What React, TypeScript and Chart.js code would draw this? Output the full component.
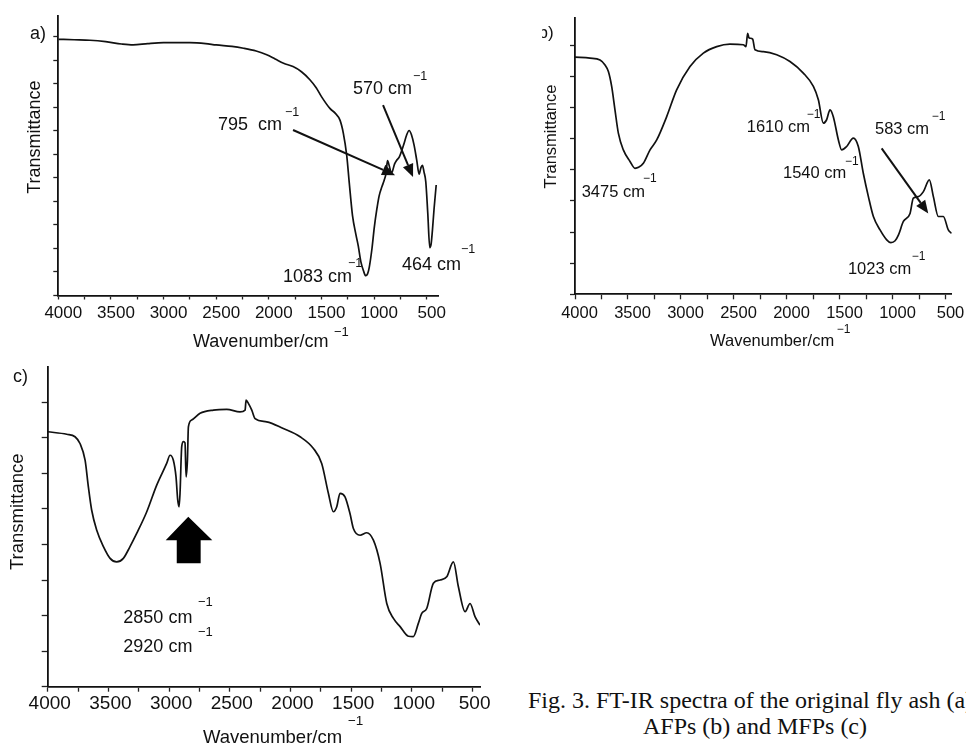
import React, { useEffect, useRef } from "react";
import { Chart, registerables } from "chart.js";

Chart.register(...registerables);

// ---------------- data ----------------
// Panel a) original fly ash
const A_WAVENUMBER = [4000, 3850, 3700, 3550, 3400, 3290, 3150, 3000, 2750, 2600, 2500, 2350, 2240, 2120, 2020, 1940, 1860, 1770, 1690, 1610, 1550, 1500, 1420, 1370, 1324, 1292, 1260, 1236, 1205, 1173, 1150, 1126, 1100, 1080, 1062, 1046, 1020, 998, 975, 952, 925, 904, 885, 873, 855, 836, 826, 805, 787, 760, 720, 690, 667, 645, 620, 595, 572, 555, 541, 525, 509, 490, 471, 458, 446, 430, 410];
const A_TRANSMITTANCE = [5.95, 5.94, 5.93, 5.9, 5.85, 5.83, 5.86, 5.88, 5.88, 5.86, 5.83, 5.8, 5.76, 5.7, 5.62, 5.53, 5.44, 5.37, 5.26, 5.09, 4.92, 4.73, 4.48, 4.38, 4.23, 3.95, 3.48, 2.9, 2.2, 1.8, 1.55, 1.22, 1.02, 0.92, 0.96, 1.1, 1.5, 1.95, 2.32, 2.62, 2.82, 2.95, 3.12, 3.37, 3.25, 3.1, 3.14, 3.3, 3.37, 3.45, 3.7, 3.92, 4.01, 3.92, 3.7, 3.38, 3.08, 3.22, 3.27, 3.12, 2.92, 2.25, 1.52, 1.6, 1.88, 2.35, 2.85];

// Panel b) AFPs
const B_WAVENUMBER = [4000, 3858, 3764, 3717, 3685, 3654, 3623, 3591, 3544, 3481, 3434, 3400, 3355, 3292, 3229, 3135, 3041, 2915, 2789, 2663, 2538, 2412, 2387, 2371, 2360, 2349, 2324, 2302, 2223, 2097, 1972, 1846, 1751, 1704, 1657, 1626, 1594, 1563, 1515, 1484, 1437, 1374, 1327, 1280, 1232, 1185, 1122, 1059, 1020, 980, 949, 902, 839, 808, 761, 713, 657, 619, 572, 525, 478, 447];
const B_TRANSMITTANCE = [7.62, 7.59, 7.53, 7.37, 7.16, 6.68, 5.93, 5.18, 4.64, 4.27, 4.05, 4.08, 4.21, 4.64, 4.96, 5.71, 6.57, 7.32, 7.75, 7.96, 8.04, 8.02, 7.96, 8.39, 8.25, 8.23, 8.2, 7.86, 7.8, 7.7, 7.48, 7.11, 6.68, 6.25, 5.5, 5.61, 5.93, 5.71, 4.96, 4.64, 4.75, 5.02, 4.75, 3.89, 3.14, 2.5, 2.07, 1.75, 1.66, 1.72, 1.9, 2.34, 2.6, 3.09, 3.14, 3.3, 3.68, 3.14, 2.5, 2.5, 2.07, 1.96];

// Panel c) MFPs
const C_WAVENUMBER = [4000, 3843, 3775, 3734, 3692, 3665, 3638, 3596, 3541, 3486, 3432, 3377, 3322, 3267, 3184, 3102, 3020, 2992, 2965, 2943, 2929, 2918, 2910, 2896, 2882, 2869, 2860, 2849, 2841, 2814, 2745, 2635, 2525, 2416, 2374, 2366, 2347, 2319, 2292, 2196, 2059, 1921, 1811, 1743, 1688, 1647, 1619, 1592, 1551, 1510, 1482, 1427, 1372, 1317, 1262, 1207, 1152, 1097, 1029, 988, 947, 919, 878, 823, 768, 713, 658, 617, 562, 521, 480, 439];
const C_TRANSMITTANCE = [7.17, 7.1, 7.03, 6.84, 6.37, 5.62, 4.97, 4.4, 3.94, 3.61, 3.51, 3.61, 3.94, 4.31, 4.92, 5.67, 6.28, 6.51, 6.37, 5.9, 5.25, 5.06, 5.44, 6.75, 6.89, 6.86, 5.9, 6.37, 7.31, 7.5, 7.69, 7.78, 7.8, 7.73, 7.78, 8.06, 7.97, 7.78, 7.54, 7.45, 7.26, 7.03, 6.7, 6.28, 5.44, 4.92, 5.06, 5.44, 5.34, 4.87, 4.45, 4.26, 4.33, 4.12, 3.47, 2.34, 1.92, 1.69, 1.42, 1.41, 1.78, 2.06, 2.2, 2.91, 3.0, 3.09, 3.51, 2.81, 2.11, 2.34, 1.97, 1.73];

// tick values
const X_TICKS = [4000, 3750, 3500, 3250, 3000, 2750, 2500, 2250, 2000, 1750, 1500, 1250, 1000, 750, 500];
const A_Y_TICKS = [0.5, 1, 1.5, 2, 2.5, 3, 3.5, 4, 4.5, 5, 5.5, 6];
const B_Y_TICKS = [0, 1, 2, 3, 4, 5, 6, 7, 8];
const C_Y_TICKS = [0, 1, 2, 3, 4, 5, 6, 7, 8];

const FONT = "'Liberation Sans', Arial, Helvetica, sans-serif";
const SUP = "\u22121";

// ---------------- annotations (in data coordinates) ----------------
const A_NOTES = [
  { kind: "text", text: "a)", x: 4269, y: 6.06, size: 18 },
  { kind: "text", text: "Transmittance", x: 4221, y: 3.87, size: 18, rotate: true },
  { kind: "text", text: "795  cm", x: 2483, y: 4.13, size: 18 },
  { kind: "text", text: SUP, x: 1846, y: 4.4, size: 12.5 },
  { kind: "text", text: "570 cm", x: 1200, y: 4.89, size: 18 },
  { kind: "text", text: SUP, x: 630, y: 5.15, size: 12.5 },
  { kind: "arrow", x1: 1770, y1: 4.02, x2: 801, y2: 3.06 },
  { kind: "arrow", x1: 915, y1: 4.55, x2: 630, y2: 3.02 },
  { kind: "text", text: "1083 cm", x: 1865, y: 0.89, size: 18 },
  { kind: "text", text: SUP, x: 1248, y: 1.19, size: 12.5 },
  { kind: "text", text: "464 cm", x: 735, y: 1.15, size: 18 },
  { kind: "text", text: SUP, x: 174, y: 1.47, size: 12.5 },
  { kind: "text", text: "Wavenumber/cm", x: 2720, y: -0.48, size: 18 },
  { kind: "text", text: SUP, x: 1381, y: -0.28, size: 13 },
];

const B_NOTES = [
  { kind: "text", text: "b)", x: 4344, y: 8.4, size: 17 },
  { kind: "text", text: "Transmittance", x: 4220, y: 5.07, size: 16.5, rotate: true },
  { kind: "text", text: "3475 cm", x: 3937, y: 3.27, size: 16.5 },
  { kind: "text", text: SUP, x: 3358, y: 3.71, size: 12 },
  { kind: "text", text: "1610 cm", x: 2380, y: 5.37, size: 16.5 },
  { kind: "text", text: SUP, x: 1814, y: 5.77, size: 12 },
  { kind: "text", text: "1540 cm", x: 2038, y: 3.87, size: 16.5 },
  { kind: "text", text: SUP, x: 1453, y: 4.26, size: 12 },
  { kind: "text", text: "583 cm", x: 1170, y: 5.31, size: 16.5 },
  { kind: "text", text: SUP, x: 635, y: 5.71, size: 12 },
  { kind: "arrow", x1: 1107, y1: 4.69, x2: 667, y2: 2.6 },
  { kind: "text", text: "1023 cm", x: 1425, y: 0.8, size: 16.5 },
  { kind: "text", text: SUP, x: 824, y: 1.21, size: 12 },
  { kind: "text", text: "Wavenumber/cm", x: 2726, y: -1.52, size: 16.5 },
  { kind: "text", text: SUP, x: 1531, y: -1.15, size: 12 },
];

const C_NOTES = [
  { kind: "text", text: "c)", x: 4286, y: 8.72, size: 18 },
  { kind: "text", text: "Transmittance", x: 4242, y: 4.92, size: 18.5, rotate: true },
  { kind: "block", tipX: 2842, tipY: 4.78, headY: 4.12, headL: 3028, headR: 2644, stemL: 2937, stemR: 2740, stemY: 3.47 },
  { kind: "text", text: "2850 cm", x: 3377, y: 1.94, size: 18 },
  { kind: "text", text: SUP, x: 2762, y: 2.38, size: 13 },
  { kind: "text", text: "2920 cm", x: 3377, y: 1.11, size: 18 },
  { kind: "text", text: SUP, x: 2762, y: 1.52, size: 13 },
  { kind: "text", text: "Wavenumber/cm", x: 2721, y: -1.45, size: 18.5 },
  { kind: "text", text: SUP, x: 1527, y: -0.98, size: 13.5 },
];

// ---------------- panel layout ----------------
const PANELS = [
  {
    key: "a", wn: A_WAVENUMBER, t: A_TRANSMITTANCE, yTicks: A_Y_TICKS, notes: A_NOTES,
    left: 0, top: 0, w: 485, h: 350, padTop: 15.8, padRight: 46.7, yAxisW: 58.3, xAxisH: 54.5,
    xMin: 390, yMin: 0.5, yMax: 6.45, tickSize: 17, tickPad: 3.6, labelOffset: 5, xTickLen: 4, yTickLen: 5,
  },
  {
    key: "b", wn: B_WAVENUMBER, t: B_TRANSMITTANCE, yTicks: B_Y_TICKS, notes: B_NOTES,
    left: 542, top: 0, w: 424, h: 355, padTop: 18, padRight: 14.3, yAxisW: 33, xAxisH: 60.7,
    xMin: 446, yMin: 0, yMax: 8.88, tickSize: 16.5, tickPad: 4.1, labelOffset: 4.5, xTickLen: 5, yTickLen: 5,
  },
  {
    key: "c", wn: C_WAVENUMBER, t: C_TRANSMITTANCE, yTicks: C_Y_TICKS, notes: C_NOTES,
    left: 0, top: 360, w: 500, h: 387, padTop: 6.7, padRight: 20, yAxisW: 47.7, xAxisH: 60.3,
    xMin: 439, yMin: 0, yMax: 9, tickSize: 19, tickPad: 0.5, labelOffset: 2, xTickLen: 5, yTickLen: 6,
  },
];

function makeNotesPlugin(notes: any[]) {
  return {
    id: "notes",
    afterDraw(chart: any) {
      const ctx = chart.ctx as CanvasRenderingContext2D;
      const xs = chart.scales.x;
      const ys = chart.scales.y;
      const X = (v: number) => xs.getPixelForValue(v);
      const Y = (v: number) => ys.getPixelForValue(v);
      ctx.save();
      for (const n of notes) {
        if (n.kind === "text") {
          ctx.fillStyle = "#111";
          ctx.font = `${n.size}px ${FONT}`;
          ctx.textBaseline = "middle";
          if (n.rotate) {
            ctx.save();
            ctx.translate(X(n.x), Y(n.y));
            ctx.rotate(-Math.PI / 2);
            ctx.textAlign = "center";
            ctx.fillText(n.text, 0, 0);
            ctx.restore();
          } else {
            ctx.textAlign = "left";
            ctx.fillText(n.text, X(n.x), Y(n.y));
          }
        } else if (n.kind === "arrow") {
          const x1 = X(n.x1), y1 = Y(n.y1), x2 = X(n.x2), y2 = Y(n.y2);
          const ang = Math.atan2(y2 - y1, x2 - x1);
          const len = 13, half = 5.5;
          const bx = x2 - len * Math.cos(ang), by = y2 - len * Math.sin(ang);
          ctx.strokeStyle = "#111";
          ctx.lineWidth = 2;
          ctx.beginPath();
          ctx.moveTo(x1, y1);
          ctx.lineTo(bx, by);
          ctx.stroke();
          ctx.fillStyle = "#111";
          ctx.beginPath();
          ctx.moveTo(x2, y2);
          ctx.lineTo(bx + half * Math.sin(ang), by - half * Math.cos(ang));
          ctx.lineTo(bx - half * Math.sin(ang), by + half * Math.cos(ang));
          ctx.closePath();
          ctx.fill();
        } else if (n.kind === "block") {
          ctx.fillStyle = "#000";
          ctx.beginPath();
          ctx.moveTo(X(n.tipX), Y(n.tipY));
          ctx.lineTo(X(n.headR), Y(n.headY));
          ctx.lineTo(X(n.stemR), Y(n.headY));
          ctx.lineTo(X(n.stemR), Y(n.stemY));
          ctx.lineTo(X(n.stemL), Y(n.stemY));
          ctx.lineTo(X(n.stemL), Y(n.headY));
          ctx.lineTo(X(n.headL), Y(n.headY));
          ctx.closePath();
          ctx.fill();
        }
      }
      ctx.restore();
    },
  };
}

function buildConfig(p: any): any {
  return {
    type: "line",
    data: {
      datasets: [
        {
          data: p.wn.map((w: number, i: number) => ({ x: w, y: p.t[i] })),
          borderColor: "#111",
          borderWidth: 1.7,
          pointRadius: 0,
          fill: false,
          cubicInterpolationMode: "monotone",
        },
      ],
    },
    options: {
      responsive: false,
      animation: false,
      devicePixelRatio: 1,
      layout: { padding: { top: p.padTop, right: p.padRight, left: 0, bottom: 0 } },
      plugins: { legend: { display: false }, tooltip: { enabled: false }, title: { display: false } },
      scales: {
        x: {
          type: "linear",
          reverse: true,
          min: p.xMin,
          max: 4000,
          afterBuildTicks: (s: any) => {
            s.ticks = X_TICKS.map((v) => ({ value: v }));
          },
          afterFit: (s: any) => {
            s.height = p.xAxisH;
          },
          ticks: {
            autoSkip: false,
            maxRotation: 0,
            minRotation: 0,
            padding: p.tickPad,
            labelOffset: p.labelOffset,
            color: "#111",
            font: { family: FONT, size: p.tickSize },
            callback: (v: number) => (v % 500 === 0 ? String(v) : ""),
          },
          grid: {
            display: true,
            drawOnChartArea: false,
            drawTicks: true,
            tickLength: p.xTickLen,
            tickColor: "#222",
            tickWidth: 1.3,
          },
          border: { display: true, color: "#111", width: 1.8 },
        },
        y: {
          type: "linear",
          min: p.yMin,
          max: p.yMax,
          afterBuildTicks: (s: any) => {
            s.ticks = p.yTicks.map((v: number) => ({ value: v }));
          },
          afterFit: (s: any) => {
            s.width = p.yAxisW;
          },
          ticks: { display: false },
          grid: {
            display: true,
            drawOnChartArea: false,
            drawTicks: true,
            tickLength: p.yTickLen,
            tickColor: "#222",
            tickWidth: 1.3,
          },
          border: { display: true, color: "#111", width: 1.8 },
        },
      },
    },
    plugins: [makeNotesPlugin(p.notes)],
  };
}

function Panel({ p }: { p: any }) {
  const ref = useRef<HTMLCanvasElement>(null);
  useEffect(() => {
    if (!ref.current) return;
    const chart = new Chart(ref.current, buildConfig(p));
    return () => chart.destroy();
  }, [p]);
  return (
    <canvas
      ref={ref}
      width={p.w}
      height={p.h}
      style={{ position: "absolute", left: p.left, top: p.top, width: p.w, height: p.h }}
    />
  );
}

export default function App() {
  const captionFont = "24px 'Liberation Serif', 'Times New Roman', Times, serif";
  return (
    <div
      style={{
        position: "absolute",
        left: 0,
        top: 0,
        width: 966,
        height: 747,
        overflow: "hidden",
        background: "#fff",
      }}
    >
      {PANELS.map((p) => (
        <Panel key={p.key} p={p} />
      ))}
      <div
        style={{
          position: "absolute",
          left: 528,
          top: 688,
          font: captionFont,
          lineHeight: "25px",
          whiteSpace: "nowrap",
          color: "#111",
        }}
      >
        Fig. 3. FT-IR spectra of the original fly ash (a),
      </div>
      <div
        style={{
          position: "absolute",
          left: 643,
          top: 714,
          font: captionFont,
          lineHeight: "25px",
          whiteSpace: "nowrap",
          color: "#111",
        }}
      >
        AFPs (b) and MFPs (c)
      </div>
    </div>
  );
}
